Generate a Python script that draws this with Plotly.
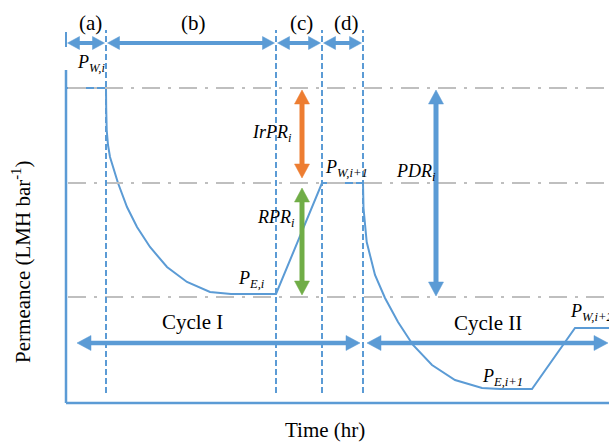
import math
import plotly.graph_objects as go

# ---------------- data ----------------
phase_bounds = [0.0, 4.0, 21.0, 25.6, 29.7]          # time (hr): start, end of (a), (b), (c), (d)
phase_labels = ["(a)", "(b)", "(c)", "(d)"]
ref_levels = [31.5, 22.0, 10.6]                       # P_W,i ; P_W,i+1 ; P_E,i
curve_t = [0.0, 4.0, 4.02, 4.07, 4.2, 4.4, 5.2, 6.1, 7.1, 8.4, 10.1, 12.1, 14.4, 16.5,
           21.0, 25.6, 29.7, 29.72, 29.75, 30.07, 30.9, 31.9, 33.2, 34.7, 36.6, 38.9,
           41.6, 43.4, 46.6, 50.9, 54.3]
curve_p = [31.5, 31.5, 29.5, 27.3, 25.8, 24.6, 22.0, 19.6, 17.6, 15.6, 13.6, 12.1, 11.1, 10.9,
           10.9, 22.0, 22.0, 21.0, 19.5, 16.1, 12.8, 10.5, 8.1, 5.8, 3.8, 2.3,
           1.5, 1.4, 1.4, 7.5, 7.5]
cycle_labels = ["Cycle I", "Cycle II"]
cycle_bounds = [0.0, 29.7, 54.3]
recovery_time = 23.6      # time where IrPR / RPR are drawn
pdr_time = 37.0           # time where PDR is drawn
t_max = 54.3
axis_top = 33.3

# ---------------- styles ----------------
BLUE = "#5b9bd5"
ORANGE = "#ed7d31"
GREEN = "#70ad47"
GREY = "#bfbfbf"
FONT = "Liberation Serif, Times New Roman, Tinos, serif"

X_RANGE = [-1.0, t_max]
Y_RANGE = [-1.0, 40.3]
W, H = 609, 444
M = dict(l=56, r=0, t=0, b=31)
PX_X = (W - M["l"] - M["r"]) / (X_RANGE[1] - X_RANGE[0])   # pixels per x unit
PX_Y = (H - M["t"] - M["b"]) / (Y_RANGE[1] - Y_RANGE[0])   # pixels per y unit

fig = go.Figure()
fig.add_trace(go.Scatter(x=curve_t, y=curve_p, mode="lines",
                         line=dict(color=BLUE, width=2), hoverinfo="skip"))

shapes = []
# axes
shapes.append(dict(type="line", x0=0, x1=0, y0=0, y1=axis_top, line=dict(color=BLUE, width=2.5)))
shapes.append(dict(type="line", x0=0, x1=t_max, y0=0, y1=0, line=dict(color=BLUE, width=2.5)))
shapes.append(dict(type="line", x0=0, x1=0, y0=35.6, y1=37.1, line=dict(color=BLUE, width=2)))
# grey reference lines
for lv in ref_levels:
    shapes.append(dict(type="line", x0=0.2, x1=t_max, y0=lv, y1=lv, layer="above",
                       line=dict(color=GREY, width=2, dash="18px,8px,3px,8px")))
# dashed phase boundaries
for tb in phase_bounds[1:]:
    shapes.append(dict(type="line", x0=tb, x1=tb, y0=1.0, y1=37.3,
                       line=dict(color=BLUE, width=2, dash="6px,3px")))


def darrow(x0, y0, x1, y1, color, width, head_len, head_half):
    """double-headed arrow built from a shaft line and two filled triangle paths"""
    dxp, dyp = (x1 - x0) * PX_X, (y1 - y0) * PX_Y
    n = math.hypot(dxp, dyp)
    ux, uy = dxp / n, dyp / n            # unit direction in pixels
    vx, vy = -uy, ux                     # normal
    back = head_len * 0.8
    shapes.append(dict(type="line",
                       x0=x0 + ux * back / PX_X, y0=y0 + uy * back / PX_Y,
                       x1=x1 - ux * back / PX_X, y1=y1 - uy * back / PX_Y,
                       line=dict(color=color, width=width), layer="above"))
    for (tx, ty, s) in ((x1, y1, 1), (x0, y0, -1)):
        bx = tx - s * ux * head_len / PX_X
        by = ty - s * uy * head_len / PX_Y
        p1 = (bx + vx * head_half / PX_X, by + vy * head_half / PX_Y)
        p2 = (bx - vx * head_half / PX_X, by - vy * head_half / PX_Y)
        path = f"M {tx},{ty} L {p1[0]},{p1[1]} L {p2[0]},{p2[1]} Z"
        shapes.append(dict(type="path", path=path, fillcolor=color,
                           line=dict(color=color, width=0.5), layer="above"))


ann = []


def label(x, y, text, size=18, xanchor="center", xref="x", yref="y", angle=0):
    ann.append(dict(x=x, y=y, xref=xref, yref=yref, text=text, showarrow=False,
                    xanchor=xanchor, yanchor="middle", textangle=angle,
                    font=dict(family=FONT, size=size, color="black")))


# phase arrows and labels
for i, lab in enumerate(phase_labels):
    a, b = phase_bounds[i], phase_bounds[i + 1]
    darrow(a + 0.15, 36.0, b - 0.15, 36.0, BLUE, 4, 12, 6.5)
    label((a + b) / 2 + (0.4 if i in (0, 3) else 0.2), 38.0, lab, size=21)

# recovery / decline arrows
darrow(recovery_time, ref_levels[0] - 0.2, recovery_time, ref_levels[1] + 0.5, ORANGE, 5, 14, 7.5)
darrow(recovery_time, ref_levels[1] - 0.5, recovery_time, ref_levels[2] + 0.2, GREEN, 5, 14, 7.5)
darrow(pdr_time, ref_levels[0] - 0.2, pdr_time, ref_levels[2] + 0.1, BLUE, 5, 14, 7.5)

# cycle arrows
darrow(cycle_bounds[0] + 1.1, 6.0, cycle_bounds[1] - 0.3, 6.0, BLUE, 4.5, 14, 7.5)
darrow(cycle_bounds[1] + 0.4, 6.0, cycle_bounds[2] - 0.1, 6.0, BLUE, 4.5, 14, 7.5)
label(12.6, 8.1, cycle_labels[0], size=21)
label(42.2, 8.0, cycle_labels[1], size=21)

# math labels
label(2.5, 34.0, "<i>P<sub>W,i</sub></i>")
label(20.6, 27.0, "<i>IrPR<sub>i</sub></i>")
label(28.0, 23.5, "<i>P<sub>W,i+1</sub></i>")
label(35.0, 23.1, "<i>PDR<sub>i</sub></i>")
label(21.0, 18.5, "<i>RPR<sub>i</sub></i>")
label(18.5, 12.4, "<i>P<sub>E,i</sub></i>")
label(43.6, 2.6, "<i>P<sub>E,i+1</sub></i>")
label(50.2, 9.1, "<i>P<sub>W,i+2</sub></i>", xanchor="left")

# axis titles
label(-0.0635, 0.3656, "Permeance (LMH bar<sup>-1</sup>)", size=21, xref="paper", yref="paper", angle=-90)
label(0.486, -0.041, "Time (hr)", size=21, xref="paper", yref="paper")

fig.update_layout(
    width=W, height=H,
    margin=M,
    paper_bgcolor="white", plot_bgcolor="white",
    showlegend=False,
    xaxis=dict(range=X_RANGE, visible=False, fixedrange=True),
    yaxis=dict(range=Y_RANGE, visible=False, fixedrange=True),
    shapes=shapes, annotations=ann,
)

fig.write_html("out.html")
